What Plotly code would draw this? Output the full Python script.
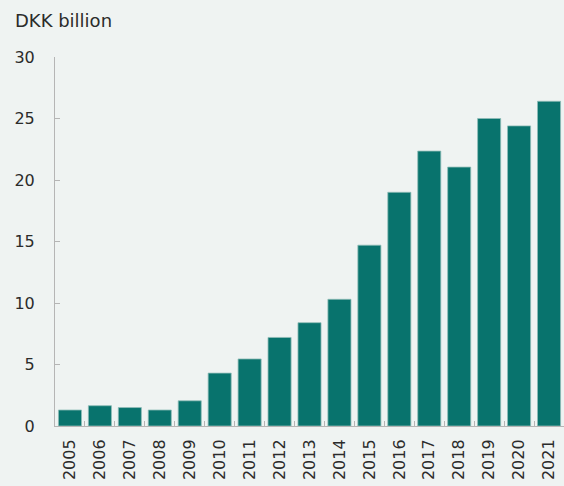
import plotly.graph_objects as go

years = [str(y) for y in range(2005, 2022)]
values = [1.3, 1.65, 1.5, 1.3, 2.05, 4.3, 5.45, 7.2, 8.4, 10.3, 14.7, 19.0, 22.35, 21.05, 25.0, 24.4, 26.4]
y_ticks = [0, 5, 10, 15, 20, 25, 30]

BG = "#eff3f2"
BAR = "#08736d"
FONT = "DejaVu Sans"

fig = go.Figure(go.Bar(
    x=years, y=values,
    marker=dict(color=BAR, line=dict(color="#8fbcb8", width=0.8)),
    width=0.77,
))

fig.update_layout(
    width=564, height=486,
    margin=dict(l=55, r=0, t=57, b=60),
    paper_bgcolor=BG, plot_bgcolor=BG,
    font=dict(family=FONT, size=16, color="#2b2b2b"),
    showlegend=False,
    annotations=[dict(text="DKK billion", xref="paper", yref="paper",
                      x=(13 - 55) / 509, y=1 + (57 - 20) / 369,
                      xanchor="left", yanchor="middle", showarrow=False,
                      font=dict(size=18, family=FONT, color="#2b2b2b"))],
)

fig.update_xaxes(
    type="category", showline=True, linecolor="#b5b5b5", linewidth=1,
    ticks="inside", tickson="boundaries", ticklen=5, tickcolor="#b5b5b5",
    tickangle=-90, tickfont=dict(size=16), showgrid=False, ticklabelstandoff=6,
)
fig.update_yaxes(
    range=[0, 30], tickvals=y_ticks, showline=True, linecolor="#b5b5b5", linewidth=1,
    ticks="inside", ticklen=5, tickcolor="#b5b5b5", showgrid=False, zeroline=False,
    tickfont=dict(size=16), ticklabelstandoff=16,
)

fig.write_html("out.html")
